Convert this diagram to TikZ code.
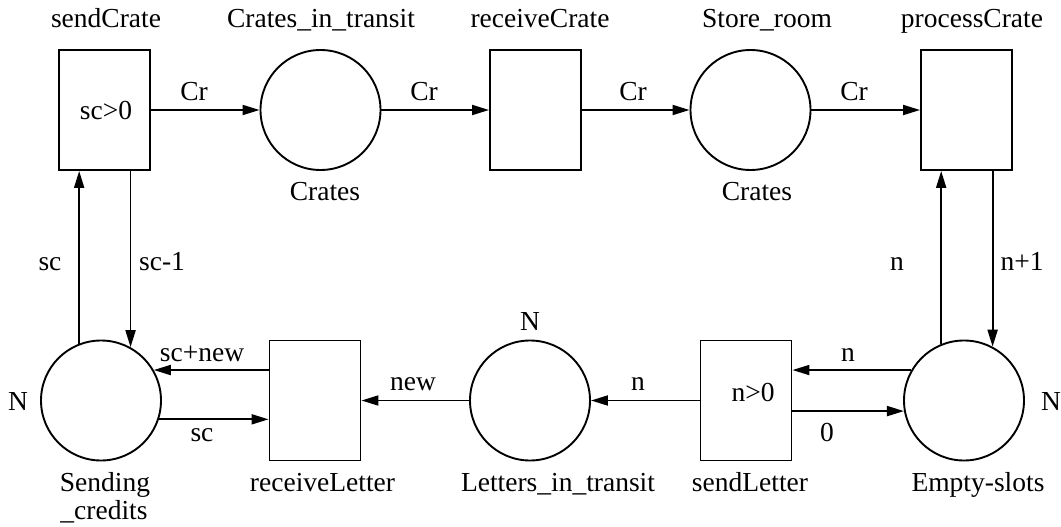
\documentclass[tikz,border=0pt]{standalone}
\usepackage{fontspec}
\setmainfont{Liberation Serif}
\usetikzlibrary{arrows.meta}
\begin{document}
\begin{tikzpicture}[x=1pt,y=-1pt,
  every node/.style={font=\fontsize{27.5}{30}\selectfont, inner sep=0pt},
  trans/.style={draw, line width=1.9pt, minimum width=91pt, minimum height=120pt},
  place/.style={draw, circle, line width=1.9pt, minimum size=120pt},
  lbl/.style={anchor=base},
  arr/.style={line width=1.9pt, -{Triangle[length=17pt,width=10pt]}}]
\useasboundingbox (0,0) rectangle (1061,527);
% top row
\node[trans] (sendCrate) at (104.5,110) {};
\node[place] (cit) at (320.5,110) {};
\node[trans] (receiveCrate) at (535.5,110) {};
\node[place] (store) at (750.5,110) {};
\node[trans] (processCrate) at (966.5,110) {};
% bottom row
\node[place] (sc) at (101,400.5) {};
\node[trans] (rl) at (315,400.5) {};
\node[place] (lit) at (530,400.5) {};
\node[trans] (sl) at (746,400.5) {};
\node[place] (es) at (964,400.5) {};
% names
\node[lbl] (tSendCrate) at (106,28) {sendCrate};
\node[lbl] (tCit) at (321,28) {Crates\_in\_transit};
\node[lbl] (tReceiveCrate) at (540,28) {receiveCrate};
\node[lbl] (tStore) at (767,28) {Store\_room};
\node[lbl] (tProcess) at (972,28) {processCrate};
\node[lbl] (tCrates1) at (325,200) {Crates};
\node[lbl] (tCrates2) at (757,200) {Crates};
\node[lbl] (tSending) at (105,491) {Sending};
\node[lbl] (tCredits) at (104,519) {\_credits};
\node[lbl] (tRl) at (322.5,491) {receiveLetter};
\node[lbl] (tLit) at (558,491) {Letters\_in\_transit};
\node[lbl] (tSl) at (750,491) {sendLetter};
\node[lbl] (tEs) at (978,491) {Empty-slots};
% guards and markings
\node[lbl] (g1) at (106,120) {sc>0};
\node[lbl] (g2) at (753,401) {n>0};
\node[lbl] (m1) at (18,410) {N};
\node[lbl] (m2) at (530,330) {N};
\node[lbl] (m3) at (1051,410) {N};
% top arcs
\draw[arr] (sendCrate.east) -- (cit.west);
\draw[arr] (cit.east) -- (receiveCrate.west);
\draw[arr] (receiveCrate.east) -- (store.west);
\draw[arr] (store.east) -- (processCrate.west);
\node[lbl] (l1) at (194,100) {Cr};
\node[lbl] (l2) at (424,100) {Cr};
\node[lbl] (l3) at (633,100) {Cr};
\node[lbl] (l4) at (854,100) {Cr};
% left vertical arcs
\draw[arr] (sc.111) -- (sc.111 |- sendCrate.south);
\draw[arr] (sc.61.5 |- sendCrate.south) -- (sc.61.5);
\node[lbl] (l5) at (50,270) {sc};
\node[lbl] (l6) at (162,270) {sc-1};
% right vertical arcs
\draw[arr] (es.112.5) -- (es.112.5 |- processCrate.south);
\draw[arr] (es.62.2 |- processCrate.south) -- (es.62.2);
\node[lbl] (l7) at (897,270) {n};
\node[lbl] (l8) at (1022,270) {n+1};
% bottom arcs
\draw[arr] (sc.30 -| rl.west) -- (sc.30);
\draw[arr] (sc.-18.5) -- (sc.-18.5 -| rl.west);
\node[lbl] (l9) at (202,361) {sc+new};
\node[lbl] (l10) at (202,441) {sc};
\draw[arr] (lit.west) -- (rl.east);
\node[lbl] (l11) at (413,390) {new};
\draw[arr] (sl.west) -- (lit.east);
\node[lbl] (l12) at (638,390) {n};
\draw[arr] (es.150) -- (es.150 -| sl.east);
\node[lbl] (l13) at (848,361) {n};
\draw[arr] (es.190 -| sl.east) -- (es.190);
\node[lbl] (l14) at (827,441) {0};
\end{tikzpicture}
\end{document}
